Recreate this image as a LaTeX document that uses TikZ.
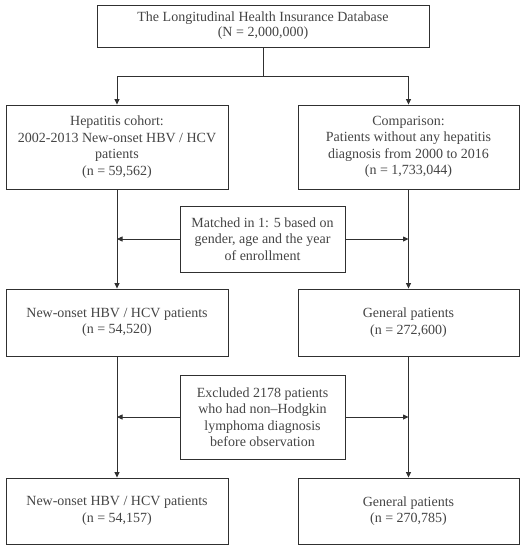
\documentclass[tikz,border=0pt]{standalone}
\usepackage{fontspec}
\setmainfont{Liberation Serif}
\usetikzlibrary{arrows.meta}
\definecolor{txt}{HTML}{454545}
\definecolor{ln}{HTML}{303030}
\begin{document}
\begin{tikzpicture}[x=1pt,y=-1pt,
  box/.style={draw=ln,line width=0.9pt,rectangle,align=center,text=txt,inner sep=0pt,
    font=\fontsize{14}{16.5}\selectfont},
  arr/.style={draw=ln,line width=0.8pt,-{Triangle[width=5pt,length=5.5pt]}},
  ln2/.style={draw=ln,line width=0.8pt}]
\useasboundingbox[fill=white] (0,0) rectangle (527,550);
\node[box,minimum width=332pt,minimum height=42pt,font=\fontsize{14}{15}\selectfont] (top) at (263,26) {The Longitudinal Health Insurance Database\\(N = 2,000,000)};
\node[box,minimum width=222pt,minimum height=84pt] (l2) at (117,147) {Hepatitis cohort:\\2002-2013 New-onset HBV / HCV\\patients\\(n = 59,562)};
\node[box,minimum width=221pt,minimum height=84pt] (r2) at (408.5,147) {Comparison:\\Patients without any hepatitis\\diagnosis from 2000 to 2016\\(n = 1,733,044)};
\node[box,minimum width=165pt,minimum height=66pt] (m) at (262.5,239) {Matched in 1: 5 based on\\gender, age and the year\\of enrollment};
\node[box,minimum width=222pt,minimum height=67pt] (l3) at (117,322.5) {New-onset HBV / HCV patients\\(n = 54,520)};
\node[box,minimum width=221pt,minimum height=67pt] (r3) at (408.5,322.5) {General patients\\(n = 272,600)};
\node[box,minimum width=165pt,minimum height=84pt] (e) at (262.5,417) {Excluded 2178 patients\\who had non{\textendash}Hodgkin\\lymphoma diagnosis\\before observation};
\node[box,minimum width=222pt,minimum height=66pt] (l4) at (117,511) {New-onset HBV / HCV patients\\(n = 54,157)};
\node[box,minimum width=221pt,minimum height=66pt] (r4) at (408.5,511) {General patients\\(n = 270,785)};
\coordinate (j) at (263,76);
\coordinate (jl) at (117,76);
\coordinate (jr) at (408.5,76);
\draw[ln2] (top.south) -- (j);
\draw[ln2] (jl) -- (jr);
\draw[arr] (jl) -- (l2.north);
\draw[arr] (jr) -- (r2.north);
\draw[arr] (l2.south) -- (l3.north);
\draw[arr] (r2.south) -- (r3.north);
\draw[arr] (l3.south) -- (l4.north);
\draw[arr] (r3.south) -- (r4.north);
\draw[arr] (m.west) -- (m.west -| l2.south);
\draw[arr] (m.east) -- (m.east -| r2.south);
\draw[arr] (e.west) -- (e.west -| l2.south);
\draw[arr] (e.east) -- (e.east -| r2.south);
\end{tikzpicture}
\end{document}
